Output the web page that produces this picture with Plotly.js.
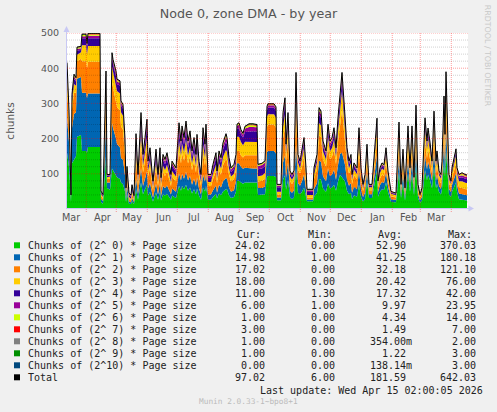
<!DOCTYPE html>
<html><head><meta charset="utf-8">
<script src="https://cdn.plot.ly/plotly-3.0.1.min.js"></script>
<style>html,body{margin:0;padding:0;background:#F0F0F0;}#chart{width:497px;height:412px;}</style>
</head><body><div id="chart"></div>
<script>
// ---- data (day index counted from 2025-03-12 17:00, one day per step) ----
const days = [0,2,4,5,7,9,10,14,15,19,20,21,33,34,36,39,40,43,45,46,49,50,53,54,56,58,59,60,62,64,65,67,
69,71,74,76,78,80,81,83,85,86,89,91,93,94,96,98,100,104,105,109,112,114,115,117,119,121,123,125,127,129,130,132,134,136,138,139,141,144,146,149,150,152,154,156,159,160,162,164,167,169,170,172,174,176,178,182,186,190,191,195,198,200,201,207,209,210,214,
216,218,219,221,223,225,227,229,231,233,235,237,239,240,246,247,250,252,254,256,259,261,263,265,267,269,271,273,275,278,280,282,284,285,287,290,292,294,296,298,
300,302,305,310,311,313,315,317,319,321,324,329,332,334,336,338,339,341,343,345,347,349,351,353,355,358,360,361,363,365,367,369,370,372,374,375,377,378,379,381,382,384,385,389,390,392,395,399,400];

const total = [416,280,40,326,383,373,460,462,497,497,470,499,499,51,41,392,98,98,444,425,392,369,364,307,297,200,60,121,45,40,69,38,
214,98,274,155,203,255,136,174,108,79,170,98,174,89,155,141,160,98,136,117,245,193,236,203,250,193,222,165,203,155,212,136,98,231,184,241,98,98,127,160,108,165,146,188,214,203,146,117,127,155,241,245,225,215,235,242,242,240,127,130,137,292,299,299,290,70,70,
274,316,184,274,108,98,110,388,155,136,165,203,117,56,56,117,155,288,278,193,165,241,193,203,231,174,260,326,388,264,174,136,155,98,131,117,231,117,70,98,
184,70,70,258,80,117,131,126,174,108,50,45,247,70,170,60,117,236,117,236,90,295,70,41,60,259,193,230,190,136,278,136,165,108,98,136,321,212,390,212,98,80,117,171,117,98,103,97,97];

const chunks0 = [160,120,20,130,140,150,205,210,165,165,160,176,176,20,15,150,60,55,115,110,95,90,85,75,70,50,20,45,15,14,22,14,
56,26,75,42,56,69,38,48,30,21,47,26,48,24,42,38,43,26,38,31,66,52,65,56,69,52,61,44,56,42,58,38,26,62,50,65,26,26,34,43,30,44,39,50,56,56,39,31,34,50,80,80,75,72,75,75,75,75,40,40,42,92,94,94,90,25,25,
83,95,55,83,33,28,33,115,46,42,49,61,35,22,22,35,46,85,84,58,49,73,58,61,69,52,78,97,90,78,52,42,46,28,39,35,69,35,21,28,
79,31,31,111,35,49,56,54,75,48,20,19,106,31,74,24,49,101,49,101,39,127,31,18,24,111,82,98,82,58,121,58,72,48,41,58,138,91,168,91,41,35,49,75,49,28,26,24,24];

const chunks1 = [100,70,8,100,130,125,165,165,165,165,155,152,152,10,8,100,15,20,130,120,105,95,90,70,70,45,10,25,6,5,10,5,
32,15,41,23,30,38,20,26,16,12,25,15,26,13,23,21,24,15,20,18,37,29,35,30,37,29,33,25,30,23,32,20,15,35,28,36,15,15,19,24,16,25,22,28,32,30,22,18,19,30,50,50,45,42,42,40,40,40,20,20,22,70,71,71,68,8,8,
49,57,33,49,19,18,20,70,28,24,30,37,21,5,5,21,28,52,50,35,30,43,35,37,42,31,47,59,70,48,31,24,28,18,24,21,42,21,13,18,
29,11,11,41,13,19,21,20,28,17,8,7,40,11,27,10,19,38,19,38,14,47,11,7,10,41,31,37,30,22,44,22,26,17,16,22,51,34,62,34,16,13,19,27,19,16,16,15,15];

const chunks2 = [90,50,5,55,60,55,50,52,90,90,85,90,90,8,6,70,10,12,115,115,110,105,105,90,85,55,12,20,8,6,12,6,
54,24,68,39,51,64,34,43,27,20,42,24,43,22,39,35,40,24,34,29,61,48,59,51,62,48,55,41,51,39,53,34,24,58,46,60,24,24,32,40,27,41,36,47,54,51,36,29,32,30,35,35,32,32,36,38,38,38,18,20,22,72,75,75,73,8,8,
68,79,46,68,27,25,28,97,39,34,41,51,29,5,5,29,39,72,70,48,41,60,48,51,58,44,65,82,121,66,44,34,39,25,33,29,58,29,17,25,
29,11,11,41,13,19,21,20,28,17,8,7,40,11,27,10,19,38,19,38,14,47,11,7,10,41,31,37,30,22,44,22,26,17,16,22,51,34,62,34,16,13,19,27,19,17,18,17,17];

const chunks3 = [35,20,3,20,25,20,18,18,45,45,40,45,45,5,5,35,5,5,45,45,45,45,48,40,40,25,8,12,5,4,8,4,
26,12,33,19,24,31,16,21,13,9,20,12,21,11,19,17,19,12,16,14,29,23,28,24,30,23,27,20,24,19,25,16,12,28,22,29,12,12,15,19,13,20,18,23,26,24,18,14,15,20,40,40,38,35,38,38,38,37,15,15,16,28,29,29,28,8,8,
33,38,22,33,13,12,13,47,19,16,20,24,14,8,8,14,19,35,33,23,20,29,23,24,28,21,31,39,55,32,21,16,19,12,16,14,28,14,8,12,
24,9,9,34,10,15,17,16,23,14,7,6,32,9,22,8,15,31,15,31,12,38,9,5,8,34,25,30,25,18,36,18,21,14,13,18,42,28,51,28,13,10,15,22,15,18,19,18,18];

const chunks4 = [15,10,2,12,15,12,12,7,20,20,18,22,22,4,4,20,4,3,25,22,22,20,22,20,20,15,5,10,6,6,9,5,
24,11,30,17,22,28,15,19,12,9,19,11,19,10,17,16,18,11,15,13,27,21,26,22,27,21,24,18,22,17,23,15,11,25,20,27,11,11,14,18,12,18,16,21,24,22,16,13,14,15,22,25,22,22,28,30,30,30,20,20,20,18,19,19,19,13,13,
22,25,15,22,9,8,9,31,12,11,13,16,9,8,8,9,12,23,22,15,13,19,15,16,18,14,21,26,30,21,14,11,12,8,10,9,18,9,6,8,
11,4,4,15,5,7,8,8,10,6,3,3,15,4,10,4,7,14,7,14,5,18,4,2,4,16,12,14,11,8,17,8,10,6,6,8,19,13,23,13,6,5,7,10,7,10,11,11,11];

const chunks5 = [8,5,1,5,7,6,5,5,6,6,6,7,7,2,2,10,2,2,8,8,9,8,8,7,7,6,3,5,3,3,5,2,
13,6,16,9,12,15,8,10,6,5,10,6,10,5,9,8,10,6,8,7,15,12,14,12,15,12,13,10,12,9,13,8,6,14,11,14,6,6,8,10,6,10,9,11,13,12,9,7,8,6,9,10,9,8,10,12,12,12,9,10,10,8,7,7,8,5,5,
11,13,7,11,4,4,4,16,6,5,7,8,5,5,5,5,6,12,11,8,7,10,8,8,9,7,10,13,12,11,7,5,6,4,5,5,9,5,3,4,
6,2,2,8,2,4,4,4,5,3,2,1,7,2,5,2,4,7,4,7,3,9,2,1,2,8,6,7,6,4,8,4,5,3,3,4,10,6,12,6,3,2,4,5,4,5,6,6,6];

const chunks6 = [4,3,1,2,3,3,3,3,3,3,3,4,4,1,1,4,1,1,3,3,3,3,3,3,3,2,1,2,1,1,2,1,
5,2,6,3,4,5,3,4,2,2,4,2,4,2,3,3,3,2,3,3,5,4,5,4,5,4,5,4,4,3,4,3,2,5,4,5,2,2,3,3,2,4,3,4,5,4,3,3,3,2,3,3,2,2,3,5,5,4,3,3,3,2,2,2,2,2,2,
4,5,3,4,2,2,2,6,3,2,3,3,2,2,2,2,3,5,4,3,3,4,3,3,4,3,4,5,5,4,3,2,3,2,2,2,4,2,1,2,
3,1,1,4,1,2,2,2,3,2,1,1,4,1,3,1,2,4,2,4,2,5,1,1,1,4,3,4,3,2,4,2,3,2,2,2,5,3,6,3,2,1,2,3,2,2,4,1,1];

const chunks7 = [2,1,0,1,1,1,1,1,1,1,1,1,1,0,0,1,0,0,1,1,1,1,1,1,1,1,0,1,0,0,0,0,
2,1,2,1,2,2,1,1,1,0,1,1,1,1,1,1,1,1,1,1,2,2,2,2,2,2,2,1,2,1,2,1,1,2,1,2,1,1,1,1,1,1,1,2,2,2,1,1,1,1,1,1,1,1,1,2,2,2,1,1,1,1,1,1,1,0,0,
2,2,1,2,0,0,0,3,1,1,1,1,1,0,0,1,1,2,2,1,1,1,1,1,1,1,2,2,2,2,1,1,1,0,1,1,1,1,0,0,
1,0,0,2,0,1,1,1,1,0,0,0,1,0,1,0,1,1,1,1,0,2,0,0,0,2,1,1,1,1,2,1,1,0,0,1,2,1,3,1,0,0,1,1,1,1,1,3,3];

const chunks8 = [1,0,0,0,1,0,0,0,1,1,1,1,1,0,0,1,0,0,1,0,1,1,1,0,0,0,0,0,0,0,0,0,
1,0,1,1,1,1,0,1,0,0,1,0,1,0,1,1,1,0,0,0,1,1,1,1,1,1,1,1,1,1,1,0,0,1,1,1,0,0,0,1,0,1,1,1,1,1,1,0,0,0,0,0,0,0,1,1,1,1,0,0,0,0,0,0,0,0,0,
1,1,1,1,0,0,0,1,0,0,0,1,0,0,0,0,0,1,1,1,0,1,1,1,1,0,1,1,1,1,0,0,0,0,0,0,1,0,0,0,
1,0,0,1,0,0,0,0,0,0,0,0,1,0,0,0,0,1,0,1,0,1,0,0,0,1,1,1,1,0,1,0,0,0,0,0,1,1,1,1,0,0,0,0,0,0,1,1,1];

const chunks9 = [1,1,0,1,1,1,1,1,1,1,1,1,1,1,0,1,1,0,1,1,1,1,1,1,1,1,1,1,1,1,1,1,
1,1,1,1,1,1,1,1,1,1,1,1,1,1,1,1,1,1,1,1,1,1,1,1,1,1,1,1,1,1,1,1,1,1,1,1,1,1,1,1,1,1,1,1,1,1,1,1,1,1,1,1,1,1,1,1,1,1,1,1,1,1,1,1,1,1,1,
1,1,1,1,1,1,1,1,1,1,1,1,1,1,1,1,1,1,1,1,1,1,1,1,1,1,1,1,1,1,1,1,1,1,1,1,1,1,1,1,
1,1,1,1,1,1,1,1,1,1,1,1,1,1,1,1,1,1,1,1,1,1,1,0,1,1,1,1,1,1,1,1,1,1,1,1,1,1,1,1,1,1,1,1,1,1,1,1,1];

const chunks10 = [0,0,0,0,0,0,0,0,0,0,0,0,0,0,0,0,0,0,0,0,0,0,0,0,0,0,0,0,0,0,0,0,
0,0,1,0,0,1,0,0,0,0,0,0,0,0,0,0,0,0,0,0,1,0,0,0,1,0,0,0,0,0,0,0,0,0,0,1,0,0,0,0,0,0,0,0,0,0,0,0,0,0,0,0,0,0,0,0,0,0,0,0,0,0,0,0,0,0,0,
0,0,0,0,0,0,0,1,0,0,0,0,0,0,0,0,0,0,0,0,0,0,0,0,0,0,0,1,1,0,0,0,0,0,0,0,0,0,0,0,
0,0,0,0,0,0,0,0,0,0,0,0,0,0,0,0,0,0,0,0,0,0,0,0,0,0,0,0,0,0,0,0,0,0,0,0,1,0,1,0,0,0,0,0,0,0,0,0,0];

const seriesNames = ["Chunks of (2^ 0) * Page size","Chunks of (2^ 1) * Page size","Chunks of (2^ 2) * Page size",
  "Chunks of (2^ 3) * Page size","Chunks of (2^ 4) * Page size","Chunks of (2^ 5) * Page size",
  "Chunks of (2^ 6) * Page size","Chunks of (2^ 7) * Page size","Chunks of (2^ 8) * Page size",
  "Chunks of (2^ 9) * Page size","Chunks of (2^10) * Page size","Total"];
const seriesColors = ["#00CC00","#0066B3","#FF8000","#FFCC00","#330099","#990099","#CCFF00","#FF0000","#808080","#008F00","#00487D","#000000"];
const curValues = ["24.02","14.98","17.02","18.00","11.00","6.00","1.00","3.00","1.00","1.00","0.00","97.02"];
const minValues = ["0.00","1.00","0.00","0.00","1.30","1.00","0.00","0.00","0.00","0.00","0.00","6.00"];
const avgValues = ["52.90","41.25","32.18","20.42","17.32","9.97","4.34","1.49","354.00m","1.22","138.14m","181.59"];
const maxValues = ["370.03","180.18","121.10","76.00","42.00","23.95","14.00","7.00","2.00","3.00","3.00","642.03"];

const monthLabels = ["Mar","Apr","May","Jun","Jul","Aug","Sep","Oct","Nov","Dec","Jan","Feb","Mar"];
const monthLabelDates = ["2025-03-17","2025-04-17","2025-05-17","2025-06-17","2025-07-17","2025-08-17","2025-09-17",
  "2025-10-17","2025-11-17","2025-12-17","2026-01-17","2026-02-17","2026-03-17"];
const monthStarts = ["2025-04-01","2025-05-01","2025-06-01","2025-07-01","2025-08-01","2025-09-01","2025-10-01",
  "2025-11-01","2025-12-01","2026-01-01","2026-02-01","2026-03-01","2026-04-01"];
const yTicks = [100,200,300,400,500];

// ---- helpers ----
const START = Date.UTC(2025,2,12,17,0,0);
function dayToDate(d){ return new Date(START + d*86400000).toISOString().slice(0,19).replace('T',' '); }
const x = days.map(dayToDate);

const L = 67, R = 468, T = 33, B = 209, W = R - L, H = B - T;
const PX = p => (p - L) / W;
const PY = p => (B - p) / H;

const stacks = [chunks0,chunks1,chunks2,chunks3,chunks4,chunks5,chunks6,chunks7,chunks8,chunks9,chunks10];
const traces = stacks.map((vals, k) => ({
  x: x, y: vals, type: 'scatter', mode: 'lines', stackgroup: 'one',
  line: {width: 0, color: seriesColors[k]}, fillcolor: seriesColors[k],
  hoverinfo: 'skip', showlegend: false, name: seriesNames[k]
}));
traces.push({x: x, y: total, type: 'scatter', mode: 'lines', line: {color: '#000000', width: 1},
  hoverinfo: 'skip', showlegend: false, name: 'Total'});

const shapes = [];
const minorCol = 'rgba(0,0,0,0.18)', majorCol = 'rgba(255,0,0,0.38)';
for (let v = 20; v < 500; v += 20) {
  if (v % 100 === 0) continue;
  shapes.push({type:'line', layer:'above', xref:'paper', yref:'y', x0:0, x1:1, y0:v, y1:v,
    line:{color:minorCol, width:1, dash:'1px,1px'}});
}
yTicks.forEach(v => shapes.push({type:'line', layer:'above', xref:'paper', yref:'y', x0:0, x1:1, y0:v, y1:v,
  line:{color:majorCol, width:1, dash:'1px,1px'}}));
monthStarts.forEach(d => shapes.push({type:'line', layer:'above', xref:'x', yref:'paper', x0:d, x1:d,
  y0:PY(212), y1:1, line:{color:majorCol, width:1, dash:'1px,1px'}}));
// axes with arrows
const axisCol = '#C8C8F4';
shapes.push({type:'line', layer:'above', xref:'paper', yref:'paper', x0:PX(66.5), x1:PX(66.5), y0:PY(209), y1:PY(31),
  line:{color:axisCol, width:1}});
shapes.push({type:'path', layer:'above', xref:'paper', yref:'paper',
  path:`M ${PX(66.5)},${PY(26)} L ${PX(63.5)},${PY(32)} L ${PX(69.5)},${PY(32)} Z`,
  fillcolor:axisCol, line:{width:0}});
shapes.push({type:'line', layer:'above', xref:'paper', yref:'paper', x0:PX(66.5), x1:PX(470), y0:PY(208.5), y1:PY(208.5),
  line:{color:axisCol, width:1}});
shapes.push({type:'path', layer:'above', xref:'paper', yref:'paper',
  path:`M ${PX(474)},${PY(208.5)} L ${PX(468.5)},${PY(205.5)} L ${PX(468.5)},${PY(211.5)} Z`,
  fillcolor:axisCol, line:{width:0}});

const annotations = [];
const mono = 'DejaVu Sans Mono';
monthLabels.forEach((m, k) => annotations.push({xref:'x', yref:'paper', x: monthLabelDates[k], y: PY(217),
  text: m, showarrow:false, xanchor:'center', yanchor:'middle', borderpad:0,
  font:{family:'DejaVu Sans', size:9.7, color:'#555555'}}));

const legFont = {family: mono, size: 10, color: '#222222'};
const headY = 234;
[["Cur:",235.7],["Min:",306.7],["Avg:",377],["Max:",447.3]].forEach(h => annotations.push({
  xref:'paper', yref:'paper', x:PX(h[1]), y:PY(headY), text:h[0], showarrow:false,
  xanchor:'left', yanchor:'middle', borderpad:0, font:legFont}));
const colEdges = [265.7, 336, 406.7, 477.3];
const cols = [curValues, minValues, avgValues, maxValues];
seriesNames.forEach((name, k) => {
  const ry = 245.3 + 12 * k;
  shapes.push({type:'rect', layer:'above', xref:'paper', yref:'paper', x0:PX(14), x1:PX(20), y0:PY(ry+3), y1:PY(ry-3),
    fillcolor: seriesColors[k], line:{width:0}});
  annotations.push({xref:'paper', yref:'paper', x:PX(26.7), y:PY(ry), text:name, showarrow:false,
    xanchor:'left', yanchor:'middle', borderpad:0, font:legFont});
  cols.forEach((c, j) => {
    const v = c[k];
    const edge = colEdges[j] + (v.endsWith('m') ? 6 : 0);
    annotations.push({xref:'paper', yref:'paper', x:PX(edge), y:PY(ry), text:v, showarrow:false,
      xanchor:'right', yanchor:'middle', borderpad:0, font:legFont});
  });
});
annotations.push({xref:'paper', yref:'paper', x:PX(483.5), y:PY(390), text:'Last update: Wed Apr 15 02:00:05 2026',
  showarrow:false, xanchor:'right', yanchor:'middle', borderpad:0, font:legFont});
annotations.push({xref:'paper', yref:'paper', x:PX(248.3), y:PY(401.7), text:'Munin 2.0.33-1~bpo8+1',
  showarrow:false, xanchor:'center', yanchor:'middle', borderpad:0, font:{family:mono, size:7.8, color:'#BBBBBB'}});
annotations.push({xref:'paper', yref:'paper', x:PX(488.3), y:PY(56), text:'RRDTOOL / TOBI OETIKER',
  showarrow:false, xanchor:'center', yanchor:'middle', textangle:90, borderpad:0,
  font:{family:'DejaVu Sans', size:7.9, color:'#C8C8C8'}});

const layout = {
  width: 497, height: 412,
  margin: {l: L, r: 497 - R, t: T, b: 412 - B, pad: 0},
  paper_bgcolor: '#F0F0F0', plot_bgcolor: '#FFFFFF',
  showlegend: false,
  title: {text: 'Node 0, zone DMA - by year', font: {family: 'DejaVu Sans', size: 12.7, color: '#555555'},
    x: 0.5, xref: 'container', xanchor: 'center', y: 1 - 13.5/412, yref: 'container', yanchor: 'middle'},
  xaxis: {type: 'date', range: [dayToDate(0), dayToDate(401)], showgrid: false, showticklabels: false,
    ticks: '', zeroline: false, showline: false, fixedrange: true},
  yaxis: {range: [0, 500], tickmode: 'array', tickvals: yTicks, ticktext: yTicks.map(String),
    showgrid: false, zeroline: false, showline: false, ticks: 'outside', ticklen: 5, tickcolor: 'rgba(0,0,0,0)',
    tickfont: {family: 'DejaVu Sans', size: 9.5, color: '#555555'},
    title: {text: 'chunks', font: {family: 'DejaVu Sans', size: 10.5, color: '#555555'}, standoff: 24},
    fixedrange: true},
  shapes: shapes,
  annotations: annotations
};

Plotly.newPlot('chart', traces, layout, {staticPlot: true, displayModeBar: false});
</script></body></html>
